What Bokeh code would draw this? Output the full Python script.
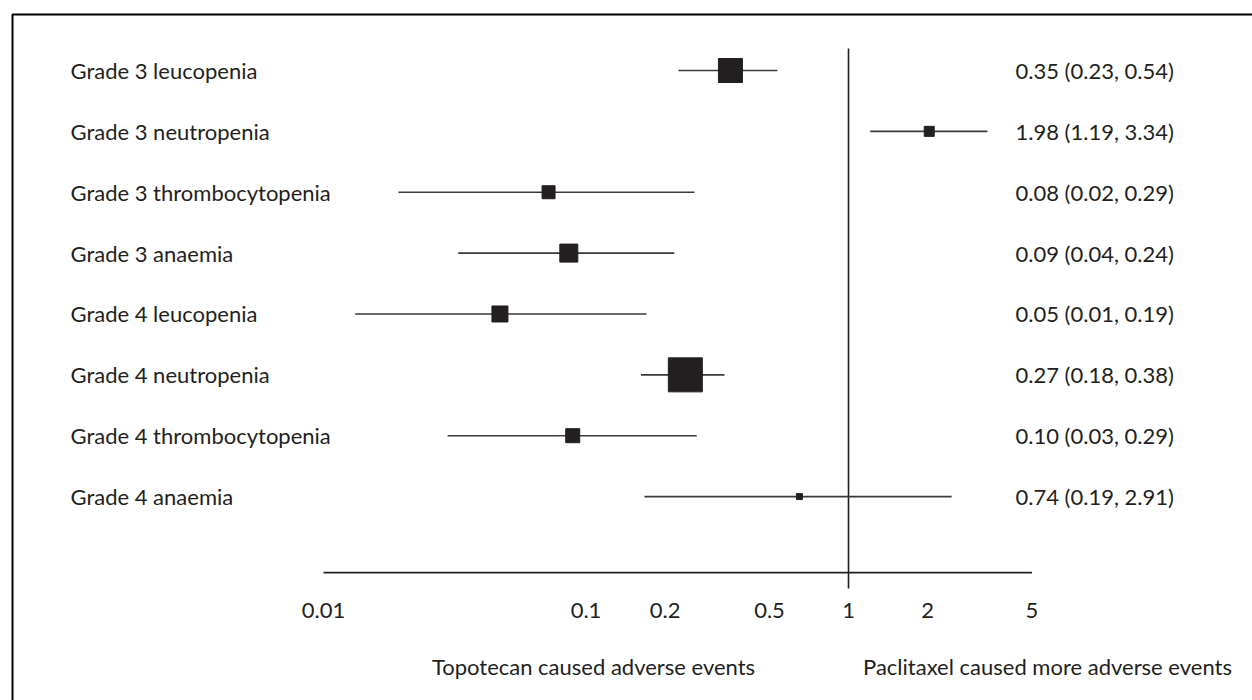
from bokeh.plotting import figure
from bokeh.models import Range1d, Label, BoxAnnotation, ColumnDataSource
from bokeh.core.properties import value
from bokeh.embed import file_html
from bokeh.resources import INLINE

# ---- data ----
outcomes = ["Grade 3 leucopenia", "Grade 3 neutropenia", "Grade 3 thrombocytopenia",
            "Grade 3 anaemia", "Grade 4 leucopenia", "Grade 4 neutropenia",
            "Grade 4 thrombocytopenia", "Grade 4 anaemia"]
estimate = [0.355, 2.03, 0.072, 0.086, 0.047, 0.239, 0.089, 0.65]
ci_low = [0.225, 1.21, 0.0193, 0.0326, 0.0132, 0.162, 0.0297, 0.167]
ci_high = [0.536, 3.38, 0.259, 0.217, 0.170, 0.337, 0.264, 2.47]
weight_px = [24, 10, 13, 18, 16, 34, 14, 6]
result_text = ["0.35 (0.23, 0.54)", "1.98 (1.19, 3.34)", "0.08 (0.02, 0.29)",
               "0.09 (0.04, 0.24)", "0.05 (0.01, 0.19)", "0.27 (0.18, 0.38)",
               "0.10 (0.03, 0.29)", "0.74 (0.19, 2.91)"]
ticks = [0.01, 0.1, 0.2, 0.5, 1, 2, 5]
tick_labels = ["0.01", "0.1", "0.2", "0.5", "1", "2", "5"]
caption_left = "Topotecan caused adverse events"
caption_right = "Paclitaxel caused more adverse events"

# ---- layout ----
W, H = 1252, 700
FONT = value("Lato")
INK = "#231f20"
FS = "22px"
rows = list(range(len(outcomes)))

p = figure(width=W, height=H, x_axis_type="log",
           x_range=Range1d(10 ** -3.2305, 10 ** 1.539),
           y_range=Range1d(10.35, -1.15),
           output_backend="svg", toolbar_location=None,
           min_border=0, min_border_left=0, min_border_right=0,
           min_border_top=0, min_border_bottom=0)
p.axis.visible = False
p.grid.visible = False
p.outline_line_color = None
p.background_fill_color = "white"
p.border_fill_color = "white"

# outer border (left and top edges visible)
p.add_layout(BoxAnnotation(left=12, right=W + 50, top=H - 14, bottom=-50,
                           left_units="screen", right_units="screen",
                           top_units="screen", bottom_units="screen",
                           fill_alpha=0, line_color="black", line_alpha=1.0,
                           line_width=2))

src = ColumnDataSource(dict(y=rows, est=estimate, lo=ci_low, hi=ci_high, size=weight_px))

axis_row = 8.25
# reference line at 1
p.segment(x0=[1], y0=[-0.36], x1=[1], y1=[8.51], line_color=INK, line_width=1.6)
# horizontal axis line
p.segment(x0=[ticks[0]], y0=[axis_row], x1=[ticks[-1]], y1=[axis_row],
          line_color=INK, line_width=1.8)

# confidence intervals and point estimates
p.segment(x0="lo", y0="y", x1="hi", y1="y", source=src, line_color="#3a3a3a", line_width=1.6)
p.scatter(x="est", y="y", size="size", marker="square", source=src,
          fill_color=INK, line_color=INK, line_width=1)

# tick labels
p.text(x=ticks, y=[axis_row + 0.62] * len(ticks), text=tick_labels,
       text_font=FONT, text_font_size=value(FS), text_color=INK,
       text_align="center", text_baseline="middle")

# row labels
for i, name in enumerate(outcomes):
    p.add_layout(Label(x=70, x_units="screen", y=i, text=name, text_font="Lato",
                       text_font_size=FS, text_color=INK, text_baseline="middle"))
    p.add_layout(Label(x=1015, x_units="screen", y=i, text=result_text[i], text_font="Lato",
                       text_font_size=FS, text_color=INK, text_baseline="middle"))

# captions
p.add_layout(Label(x=593, y=H - 666, x_units="screen", y_units="screen", text=caption_left,
                   text_font="Lato", text_font_size=FS, text_color=INK,
                   text_align="center", text_baseline="middle"))
p.add_layout(Label(x=1047, y=H - 666, x_units="screen", y_units="screen", text=caption_right,
                   text_font="Lato", text_font_size=FS, text_color=INK,
                   text_align="center", text_baseline="middle"))

open("out.html", "w").write(file_html(p, INLINE))
